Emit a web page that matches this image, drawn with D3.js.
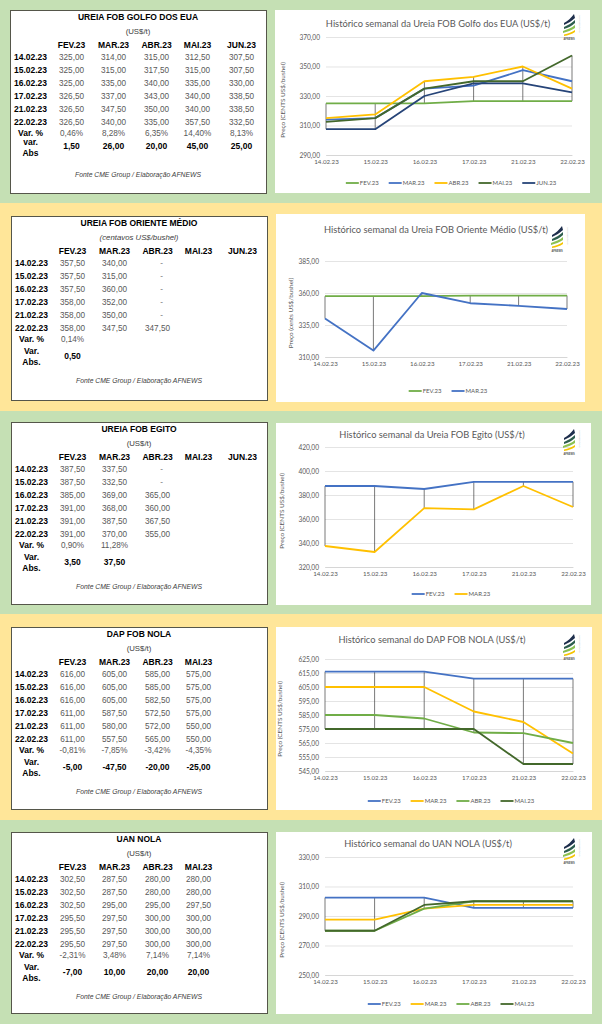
<!DOCTYPE html>
<html>
<head>
<meta charset="utf-8">
<script src="https://cdn.jsdelivr.net/npm/d3@7"></script>
<style>
  body { margin: 0; background: #fff; }
  svg { display: block; }
</style>
</head>
<body>
<div id="chart"></div>
<script>
// dates and contract months shared by all panels
const dates = ['14.02.23', '15.02.23', '16.02.23', '17.02.23', '21.02.23', '22.02.23'];
const months5 = ['FEV.23', 'MAR.23', 'ABR.23', 'MAI.23', 'JUN.23'];
const months4 = ['FEV.23', 'MAR.23', 'ABR.23', 'MAI.23'];

// Ureia FOB Golfo dos EUA
const golfoFev = [325, 325, 325, 326.5, 326.5, 326.5];
const golfoMar = [314, 315, 335, 337, 347.5, 340];
const golfoAbr = [315, 317.5, 340, 343, 350, 335];
const golfoMai = [312.5, 315, 335, 340, 340, 357.5];
const golfoJun = [307.5, 307.5, 330, 338.5, 338.5, 332.5];
const golfoVarPct = [0.46, 8.28, 6.35, 14.40, 8.13];
const golfoVarAbs = [1.5, 26, 20, 45, 25];
const golfoTicks = [290, 310, 330, 350, 370];

// Ureia FOB Oriente Medio
const orienteFev = [357.5, 357.5, 357.5, 358, 358, 358];
const orienteMar = [340, 315, 360, 352, 350, 347.5];
const orienteAbr = [null, null, null, null, null, 347.5];
const orienteVarPct = [0.14];
const orienteVarAbs = [0.5];
const orienteTicks = [310, 335, 360, 385];

// Ureia FOB Egito
const egitoFev = [387.5, 387.5, 385, 391, 391, 391];
const egitoMar = [337.5, 332.5, 369, 368, 387.5, 370];
const egitoAbr = [null, null, 365, 360, 367.5, 355];
const egitoVarPct = [0.90, 11.28];
const egitoVarAbs = [3.5, 37.5];
const egitoTicks = [320, 340, 360, 380, 400, 420];

// DAP FOB NOLA
const dapFev = [616, 616, 616, 611, 611, 611];
const dapMar = [605, 605, 605, 587.5, 580, 557.5];
const dapAbr = [585, 585, 582.5, 572.5, 572, 565];
const dapMai = [575, 575, 575, 575, 550, 550];
const dapVarPct = [-0.81, -7.85, -3.42, -4.35];
const dapVarAbs = [-5, -47.5, -20, -25];
const dapTicks = [545, 555, 565, 575, 585, 595, 605, 615, 625];

// UAN NOLA
const uanFev = [302.5, 302.5, 302.5, 295.5, 295.5, 295.5];
const uanMar = [287.5, 287.5, 295, 297.5, 297.5, 297.5];
const uanAbr = [280, 280, 295, 300, 300, 300];
const uanMai = [280, 280, 297.5, 300, 300, 300];
const uanVarPct = [-2.31, 3.48, 7.14, 7.14];
const uanVarAbs = [-7, 10, 20, 20];
const uanTicks = [250, 270, 290, 310, 330];

const GREEN = '#70ad47', BLUE = '#4472c4', GOLD = '#ffc000', DKGREEN = '#43682b', NAVY = '#264478';
const BAND_GREEN = '#c5e0b4', BAND_YELLOW = '#ffe699';

const pt = d3.formatLocale({ decimal: ',', thousands: '.', grouping: [3], currency: ['', ''], minus: '-' });
const fmt2 = pt.format('.2f');

const panels = [
  {
    band: [0, 203, BAND_GREEN],
    table: { box: [10, 10, 256, 183], title: 'UREIA FOB GOLFO DOS EUA', sub: '(US$/t)', subItalic: false,
      months: months5, cols: [golfoFev, golfoMar, golfoAbr, golfoMai, golfoJun],
      varPct: golfoVarPct, varAbs: golfoVarAbs, absLabel: ['var.', 'Abs'], clipAbs: true },
    chart: { box: [275, 10, 315, 183], plot: [326, 572, 37, 155], ticks: golfoTicks,
      title: 'Histórico semanal da Ureia FOB Golfo dos EUA (US$/t)', titleX: 438, titleY: 24,
      yTitle: 'Preço (CENTS US$/bushel)', yTitleX: 283, legendY: 183, logo: [563, 14],
      series: [
        { name: 'FEV.23', values: golfoFev, color: GREEN },
        { name: 'MAR.23', values: golfoMar, color: BLUE },
        { name: 'ABR.23', values: golfoAbr, color: GOLD },
        { name: 'MAI.23', values: golfoMai, color: DKGREEN },
        { name: 'JUN.23', values: golfoJun, color: NAVY }
      ] }
  },
  {
    band: [203, 411, BAND_YELLOW],
    table: { box: [11, 216, 256, 184], title: 'UREIA FOB ORIENTE MÉDIO', sub: '(centavos US$/bushel)', subItalic: true,
      months: months5, cols: [orienteFev, orienteMar, orienteAbr],
      varPct: orienteVarPct, varAbs: orienteVarAbs, absLabel: ['Var.', 'Abs.'] },
    chart: { box: [276, 214, 309, 188], plot: [325, 567, 261, 357], ticks: orienteTicks,
      title: 'Histórico semanal da Ureia FOB Oriente Médio (US$/t)', titleX: 436, titleY: 230,
      yTitle: 'Preço (cents US$/bushel)', yTitleX: 291, legendY: 391, logo: [551, 226],
      series: [
        { name: 'FEV.23', values: orienteFev, color: GREEN },
        { name: 'MAR.23', values: orienteMar, color: BLUE }
      ] }
  },
  {
    band: [411, 614, BAND_GREEN],
    table: { box: [11, 422, 256, 182], title: 'UREIA FOB EGITO', sub: '(US$/t)', subItalic: false,
      months: months5, cols: [egitoFev, egitoMar, egitoAbr],
      varPct: egitoVarPct, varAbs: egitoVarAbs, absLabel: ['Var.', 'Abs.'] },
    chart: { box: [276, 423, 315, 182], plot: [325, 573, 447, 567], ticks: egitoTicks,
      title: 'Histórico semanal da Ureia FOB Egito (US$/t)', titleX: 432, titleY: 435,
      yTitle: 'Preço (CENTS US$/bushel)', yTitleX: 282, legendY: 594, logo: [563, 429],
      series: [
        { name: 'FEV.23', values: egitoFev, color: BLUE },
        { name: 'MAR.23', values: egitoMar, color: GOLD }
      ] }
  },
  {
    band: [614, 820, BAND_YELLOW],
    table: { box: [11, 627, 256, 182], title: 'DAP FOB NOLA', sub: '(US$/t)', subItalic: false,
      months: months4, cols: [dapFev, dapMar, dapAbr, dapMai],
      varPct: dapVarPct, varAbs: dapVarAbs, absLabel: ['Var.', 'Abs.'] },
    chart: { box: [276, 627, 316, 183], plot: [325, 573, 659, 771], ticks: dapTicks,
      title: 'Histórico semanal do DAP FOB NOLA (US$/t)', titleX: 432, titleY: 640,
      yTitle: 'Preço (CENTS US$/bushel)', yTitleX: 280, legendY: 801, logo: [563, 634],
      series: [
        { name: 'FEV.23', values: dapFev, color: BLUE },
        { name: 'MAR.23', values: dapMar, color: GOLD },
        { name: 'ABR.23', values: dapAbr, color: GREEN },
        { name: 'MAI.23', values: dapMai, color: DKGREEN }
      ] }
  },
  {
    band: [820, 1024, BAND_GREEN],
    table: { box: [11, 832, 256, 181], title: 'UAN NOLA', sub: '(US$/t)', subItalic: false,
      months: months4, cols: [uanFev, uanMar, uanAbr, uanMai],
      varPct: uanVarPct, varAbs: uanVarAbs, absLabel: ['Var.', 'Abs.'] },
    chart: { box: [276, 832, 316, 182], plot: [325, 573, 857, 975], ticks: uanTicks,
      title: 'Histórico semanal do UAN NOLA (US$/t)', titleX: 428, titleY: 844,
      yTitle: 'Preço (CENTS US$/bushel)', yTitleX: 282, legendY: 1004, logo: [563, 838],
      series: [
        { name: 'FEV.23', values: uanFev, color: BLUE },
        { name: 'MAR.23', values: uanMar, color: GOLD },
        { name: 'ABR.23', values: uanAbr, color: GREEN },
        { name: 'MAI.23', values: uanMai, color: DKGREEN }
      ] }
  }
];

const svg = d3.select('#chart').append('svg')
    .attr('width', 602)
    .attr('height', 1024);

const defs = svg.append('defs');

// table column centres, relative to the table box
const labelX = 20.5;
const colX = [61.5, 103.5, 146.5, 187.5, 231.5];

function drawTable(g, t, idx) {
  const [bx, by, bw, bh] = t.box;
  g.append('rect')
      .attr('x', bx + 0.5).attr('y', by + 0.5)
      .attr('width', bw).attr('height', bh)
      .attr('fill', '#fff')
      .attr('stroke', '#55564a')
      .attr('stroke-width', 1);

  const txt = (x, y, s, opts = {}) => g.append('text')
      .attr('x', x).attr('y', y)
      .attr('dy', '0.35em')
      .attr('text-anchor', opts.anchor || 'middle')
      .attr('font-family', 'Liberation Sans, Arial, sans-serif')
      .attr('font-size', opts.size || 8.5)
      .attr('font-weight', opts.bold ? 'bold' : 'normal')
      .attr('font-style', opts.italic ? 'italic' : 'normal')
      .attr('fill', opts.color || '#000')
      .text(s);

  txt(bx + bw / 2, by + 7.5, t.title, { bold: true });
  txt(bx + bw / 2, by + 21, t.sub, { size: 7.8, italic: t.subItalic, color: '#404040' });

  t.months.forEach((m, j) => txt(bx + colX[j], by + 35, m, { bold: true }));

  dates.forEach((d, i) => {
    const yy = by + 47.5 + i * 12.9;
    txt(bx + labelX, yy, d, { bold: true });
    t.cols.forEach((col, j) => {
      const v = col[i];
      if (v == null) {
        txt(bx + colX[j] + 4, yy, '-', { size: 8.2, color: '#7f7f7f' });
      } else {
        txt(bx + colX[j], yy, fmt2(v), { size: 8.2, color: '#595959' });
      }
    });
  });

  const yPct = by + 123.5;
  txt(bx + labelX, yPct, 'Var. %', { bold: true });
  t.varPct.forEach((v, j) => txt(bx + colX[j], yPct, fmt2(v) + '%', { size: 8.2, color: '#595959' }));

  if (t.clipAbs) {
    // the first table cuts its label row short
    const id = 'clipAbs' + idx;
    defs.append('clipPath').attr('id', id)
      .append('rect').attr('x', bx).attr('y', by + 126).attr('width', 40).attr('height', 20);
    const absG = g.append('g').attr('clip-path', `url(#${id})`);
    [[t.absLabel[0], by + 132], [t.absLabel[1], by + 143]].forEach(([s, yy]) => {
      absG.append('text')
          .attr('x', bx + labelX).attr('y', yy).attr('dy', '0.35em')
          .attr('text-anchor', 'middle')
          .attr('font-family', 'Liberation Sans, Arial, sans-serif')
          .attr('font-size', 8.5).attr('font-weight', 'bold')
          .text(s);
    });
    t.varAbs.forEach((v, j) => txt(bx + colX[j], by + 136, fmt2(v), { bold: true }));
  } else {
    txt(bx + labelX, by + 135.5, t.absLabel[0], { bold: true });
    txt(bx + labelX, by + 146.5, t.absLabel[1], { bold: true });
    t.varAbs.forEach((v, j) => txt(bx + colX[j], by + 140.5, fmt2(v), { bold: true }));
  }

  txt(bx + bw / 2, by + 165, 'Fonte CME Group / Elaboração AFNEWS', { size: 6.8, italic: true, color: '#404040' });
}

function drawLogo(g, x, y) {
  const lg = g.append('g').attr('transform', `translate(${x},${y})`);
  const leaves = [
    { d: 'M1,9 C5,7 8,4 11,0 L12,4 C9,7 5,9 1,11 Z', c: '#1f2f4d' },
    { d: 'M1,13 C5,11 9,9 12,6 L12,9 C9,12 5,14 1,15 Z', c: '#2e5e4e' },
    { d: 'M0,17 C4,15 9,14 12,11 L12,14 C9,16 4,18 0,19 Z', c: '#8cc152' },
    { d: 'M1,20.5 C5,19.5 9,18.5 12,16 L12,18 C9,20 5,21.5 1,22 Z', c: '#f5c400' }
  ];
  leaves.forEach((l) => lg.append('path').attr('d', l.d).attr('fill', l.c));
  lg.append('text')
      .attr('x', 6).attr('y', 26)
      .attr('text-anchor', 'middle')
      .attr('font-family', 'Liberation Sans, Arial, sans-serif')
      .attr('font-size', 2.6).attr('font-weight', 'bold')
      .attr('fill', '#555')
      .text('AFNEWS');
  lg.append('text')
      .attr('transform', 'translate(15.5,1) rotate(90)')
      .attr('font-family', 'Liberation Sans, Arial, sans-serif')
      .attr('font-size', 2.3)
      .attr('fill', '#bbb')
      .text('AGRONEGÓCIO');
}

function drawChart(g, c) {
  const [bx, by, bw, bh] = c.box;
  const [x0, x1, y0, y1] = c.plot;

  g.append('rect')
      .attr('x', bx).attr('y', by)
      .attr('width', bw).attr('height', bh)
      .attr('fill', '#fff');

  const xScale = d3.scalePoint()
      .domain(dates)
      .range([x0, x1]);

  const yScale = d3.scaleLinear()
      .domain(d3.extent(c.ticks))
      .range([y1, y0]);

  const yAxis = d3.axisLeft(yScale)
      .tickValues(c.ticks)
      .tickFormat(fmt2)
      .tickSize(-(x1 - x0))
      .tickPadding(6);

  const gy = g.append('g')
      .attr('transform', `translate(${x0},0)`)
      .call(yAxis)
      .attr('font-family', 'Lato, sans-serif')
      .attr('font-size', 6.6);
  gy.select('.domain').remove();
  gy.selectAll('.tick line').attr('stroke', '#d9d9d9').attr('stroke-width', 0.7);
  gy.selectAll('.tick text').attr('fill', '#595959');

  const xAxis = d3.axisBottom(xScale)
      .tickSize(0)
      .tickPadding(5);

  const gx = g.append('g')
      .attr('transform', `translate(0,${y1})`)
      .call(xAxis)
      .attr('font-family', 'Lato, sans-serif')
      .attr('font-size', 6.2);
  gx.select('.domain').attr('stroke', '#d0d0d0').attr('stroke-width', 0.7);
  gx.selectAll('.tick text').attr('fill', '#595959');

  // high-low lines
  dates.forEach((d, i) => {
    const vals = c.series.map((s) => s.values[i]).filter((v) => v != null);
    g.append('line')
        .attr('x1', xScale(d)).attr('x2', xScale(d))
        .attr('y1', yScale(d3.min(vals)))
        .attr('y2', yScale(d3.max(vals)))
        .attr('stroke', '#404040')
        .attr('stroke-width', 0.7);
  });

  const line = d3.line()
      .defined((v) => v != null)
      .x((v, i) => xScale(dates[i]))
      .y((v) => yScale(v));

  c.series.forEach((s) => {
    g.append('path')
        .datum(s.values)
        .attr('d', line)
        .attr('fill', 'none')
        .attr('stroke', s.color)
        .attr('stroke-width', 1.8)
        .attr('stroke-linejoin', 'round');
  });

  g.append('text')
      .attr('x', c.titleX).attr('y', c.titleY)
      .attr('dy', '0.35em')
      .attr('text-anchor', 'middle')
      .attr('font-family', 'Lato, sans-serif')
      .attr('font-size', 9.3)
      .attr('fill', '#595959')
      .text(c.title);

  g.append('text')
      .attr('transform', `translate(${c.yTitleX},${(y0 + y1) / 2 + 4}) rotate(-90)`)
      .attr('dy', '0.35em')
      .attr('text-anchor', 'middle')
      .attr('font-family', 'Lato, sans-serif')
      .attr('font-size', 6.4)
      .attr('fill', '#595959')
      .text(c.yTitle);

  // legend
  const lg = g.append('g');
  let cx = 0;
  c.series.forEach((s) => {
    lg.append('line')
        .attr('x1', cx).attr('x2', cx + 13)
        .attr('y1', c.legendY).attr('y2', c.legendY)
        .attr('stroke', s.color)
        .attr('stroke-width', 1.8);
    const t = lg.append('text')
        .attr('x', cx + 14).attr('y', c.legendY)
        .attr('dy', '0.35em')
        .attr('font-family', 'Lato, sans-serif')
        .attr('font-size', 6)
        .attr('fill', '#595959')
        .text(s.name);
    cx += 14 + t.node().getComputedTextLength() + 10;
  });
  cx -= 10;
  lg.attr('transform', `translate(${(x0 + x1) / 2 - cx / 2 + 2},0)`);

  drawLogo(g, c.logo[0], c.logo[1]);
}

panels.forEach((p, idx) => {
  svg.append('rect')
      .attr('x', 0).attr('y', p.band[0])
      .attr('width', 602).attr('height', p.band[1] - p.band[0])
      .attr('fill', p.band[2]);
  const g = svg.append('g').attr('class', 'panel');
  drawTable(g.append('g').attr('class', 'table'), p.table, idx);
  drawChart(g.append('g').attr('class', 'line-chart'), p.chart);
});
</script>
</body>
</html>
